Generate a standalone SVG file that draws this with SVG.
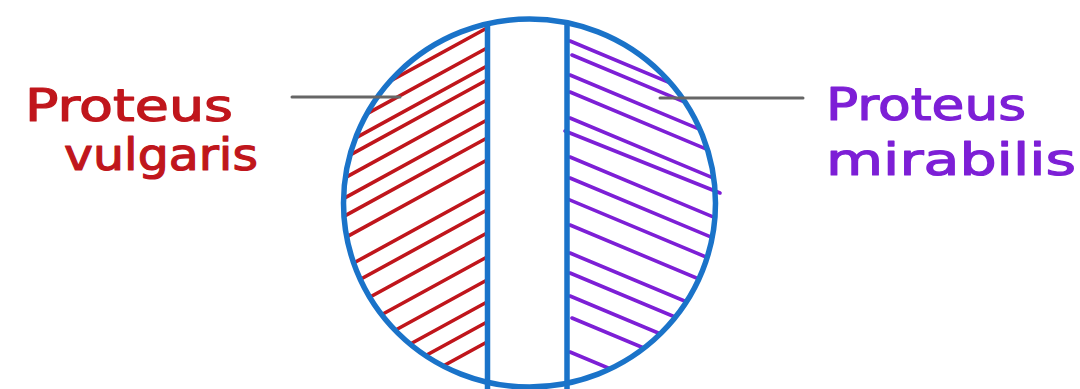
<svg xmlns="http://www.w3.org/2000/svg" width="1080" height="389" viewBox="0 0 1080 389">
  <style>
    .red { stroke: #c0161c; stroke-width: 3.6; stroke-linecap: round; fill: none; }
    .pur { stroke: #7d1fd6; stroke-width: 3.6; stroke-linecap: round; fill: none; }
    .blue { stroke: #1a73c9; stroke-width: 5.5; fill: none; }
    .lead { stroke: #666666; stroke-width: 3; stroke-linecap: round; }
    .lbl { font-family: "DejaVu Sans", "Liberation Sans", sans-serif; font-size: 44px; stroke-width: 1.2; stroke-linejoin: round; }
  </style>
  <defs>
    <clipPath id="disk"><ellipse cx="529.5" cy="203" rx="186" ry="184"/></clipPath>
    <clipPath id="leftHalf"><rect x="300" y="0" width="188" height="389"/></clipPath>
    <clipPath id="rightHalf"><rect x="566" y="0" width="200" height="389"/></clipPath>
  </defs>
  <rect width="1080" height="389" fill="#ffffff"/>

  <g id="circle-node">
    <ellipse cx="529.5" cy="203" rx="186" ry="184" fill="#ffffff"/>
    <g id="vulgaris-hatch" clip-path="url(#disk)">
      <g clip-path="url(#leftHalf)">
        <line class="red" x1="487" y1="28" x2="330" y2="114"/>
        <line class="red" x1="487" y1="48" x2="330" y2="134"/>
        <line class="red" x1="487" y1="66" x2="330" y2="152"/>
        <line class="red" x1="487" y1="80" x2="330" y2="166"/>
        <line class="red" x1="487" y1="100" x2="330" y2="186"/>
        <line class="red" x1="487" y1="120" x2="330" y2="206"/>
        <line class="red" x1="487" y1="138" x2="330" y2="224"/>
        <line class="red" x1="487" y1="160" x2="330" y2="246"/>
        <line class="red" x1="487" y1="190" x2="330" y2="276"/>
        <line class="red" x1="487" y1="210" x2="330" y2="296"/>
        <line class="red" x1="487" y1="233" x2="330" y2="319"/>
        <line class="red" x1="487" y1="257" x2="330" y2="343"/>
        <line class="red" x1="487" y1="280" x2="330" y2="366"/>
        <line class="red" x1="487" y1="302" x2="330" y2="388"/>
        <line class="red" x1="487" y1="322" x2="330" y2="408"/>
        <line class="red" x1="487" y1="342" x2="330" y2="428"/>
      </g>
    </g>
    <g id="mirabilis-hatch" clip-path="url(#disk)">
      <g clip-path="url(#rightHalf)">
        <line class="pur" x1="570" y1="41" x2="730" y2="108"/>
        <line class="pur" x1="572" y1="55" x2="730" y2="121"/>
        <line class="pur" x1="570" y1="75" x2="730" y2="142"/>
        <line class="pur" x1="570" y1="92" x2="730" y2="159"/>
        <line class="pur" x1="570" y1="118" x2="730" y2="185"/>
        <line class="pur" x1="570" y1="157" x2="730" y2="224"/>
        <line class="pur" x1="570" y1="178" x2="730" y2="245"/>
        <line class="pur" x1="565" y1="198" x2="730" y2="267"/>
        <line class="pur" x1="570" y1="225" x2="730" y2="292"/>
        <line class="pur" x1="570" y1="253" x2="730" y2="320"/>
        <line class="pur" x1="570" y1="273" x2="730" y2="340"/>
        <line class="pur" x1="570" y1="296" x2="730" y2="363"/>
        <line class="pur" x1="572" y1="318" x2="730" y2="384"/>
        <line class="pur" x1="570" y1="352" x2="730" y2="419"/>
      </g>
    </g>
    <line class="pur" x1="565" y1="131" x2="720" y2="193"/>
    <ellipse class="blue" cx="529.5" cy="203" rx="186" ry="184"/>
    <line class="blue" x1="487.5" y1="22" x2="487.5" y2="389"/>
    <line class="blue" x1="567" y1="22" x2="567" y2="389"/>
  </g>

  <g id="connectors">
    <line class="lead" x1="292" y1="97" x2="400" y2="97"/>
    <line class="lead" x1="660" y1="98" x2="803" y2="98"/>
  </g>

  <g id="label-vulgaris">
    <text class="lbl" fill="#c0161c" stroke="#c0161c" x="25" y="121" textLength="208" lengthAdjust="spacingAndGlyphs">Proteus</text>
    <text class="lbl" fill="#c0161c" stroke="#c0161c" x="64" y="170" textLength="194" lengthAdjust="spacingAndGlyphs">vulgaris</text>
  </g>
  <g id="label-mirabilis">
    <text class="lbl" fill="#7d1fd6" stroke="#7d1fd6" x="826" y="120" textLength="200" lengthAdjust="spacingAndGlyphs">Proteus</text>
    <text class="lbl" fill="#7d1fd6" stroke="#7d1fd6" x="826" y="175" textLength="250" lengthAdjust="spacingAndGlyphs">mirabilis</text>
  </g>
</svg>
